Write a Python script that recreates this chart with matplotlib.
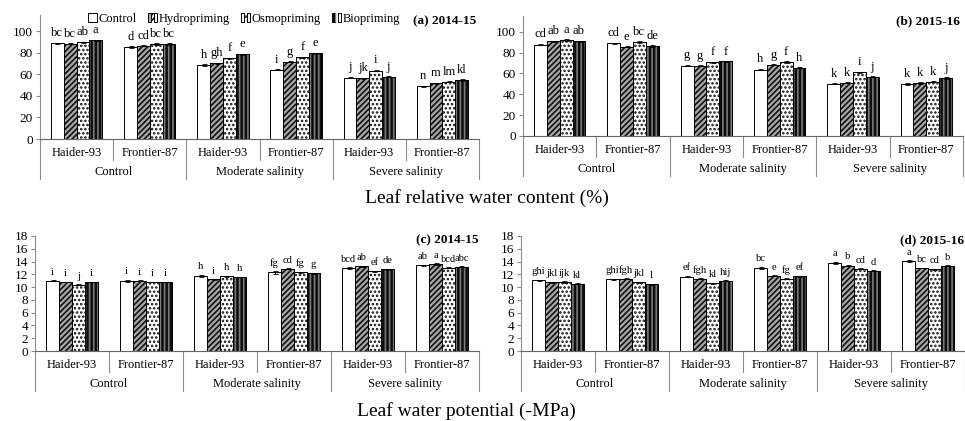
import matplotlib
matplotlib.use("Agg")
import matplotlib.pyplot as plt
import matplotlib.transforms as mtransforms
from matplotlib.patches import Patch
from matplotlib.legend_handler import HandlerTuple
from matplotlib.lines import Line2D
import numpy as np

plt.rcParams['font.family'] = ['Liberation Serif', 'DejaVu Serif']
plt.rcParams['hatch.linewidth'] = 1.2

treatments = ["Control", "Hydropriming", "Osmopriming", "Biopriming"]
cultivars = ["Haider-93", "Frontier-87", "Haider-93", "Frontier-87", "Haider-93", "Frontier-87"]
salinity = ["Control", "Moderate salinity", "Severe salinity"]

# rows = cultivar x salinity category; columns = treatments
rwc_2014 = [[88.6, 88.3, 89.5, 91.4],
            [85.2, 86.5, 88.0, 88.0],
            [68.6, 70.2, 74.8, 78.5],
            [64.3, 71.7, 75.7, 79.4],
            [57.0, 56.3, 63.4, 57.8],
            [49.0, 51.7, 53.2, 54.8]]
rwc_2014_err = [[0.6, 0.5, 0.7, 0.8],
                [0.6, 0.5, 0.6, 0.6],
                [0.6, 0.6, 0.6, 0.6],
                [0.6, 0.6, 0.7, 0.7],
                [0.8, 0.6, 0.7, 0.6],
                [0.6, 0.6, 0.6, 0.6]]
rwc_2014_lab = [["bc", "bc", "ab", "a"], ["d", "cd", "bc", "bc"], ["h", "gh", "f", "e"],
                ["i", "g", "f", "e"], ["j", "jk", "i", "j"], ["n", "m", "lm", "kl"]]

rwc_2015 = [[87.5, 90.7, 92.0, 90.7],
            [88.7, 85.5, 89.7, 86.2],
            [67.5, 67.2, 70.7, 71.4],
            [63.7, 68.2, 70.7, 65.3],
            [50.2, 51.1, 61.1, 56.9],
            [49.8, 50.8, 52.1, 55.6]]
rwc_2015_err = [[0.7, 0.6, 0.8, 0.6],
                [0.8, 0.6, 0.9, 0.7],
                [0.6, 0.5, 0.5, 0.5],
                [0.8, 0.6, 1.0, 0.6],
                [0.6, 0.6, 0.7, 0.6],
                [0.6, 0.6, 0.6, 0.6]]
rwc_2015_lab = [["cd", "ab", "a", "ab"], ["cd", "e", "bc", "de"], ["g", "g", "f", "f"],
                ["h", "g", "f", "h"], ["k", "k", "i", "j"], ["k", "k", "k", "j"]]

lwp_2014 = [[10.98, 10.80, 10.35, 10.80],
            [11.00, 11.03, 10.80, 10.80],
            [11.80, 11.20, 11.70, 11.60],
            [12.30, 12.90, 12.30, 12.20],
            [13.00, 13.30, 12.50, 12.80],
            [13.40, 13.60, 13.05, 13.15]]
lwp_2014_err = [[0.10, 0.06, 0.06, 0.06],
                [0.15, 0.08, 0.06, 0.06],
                [0.15, 0.06, 0.06, 0.06],
                [0.20, 0.08, 0.08, 0.08],
                [0.10, 0.08, 0.08, 0.08],
                [0.08, 0.12, 0.08, 0.08]]
lwp_2014_lab = [["i", "i", "j", "i"], ["i", "i", "i", "i"], ["h", "i", "h", "h"],
                ["fg", "cd", "fg", "g"], ["bcd", "ab", "ef", "de"], ["ab", "a", "bcd", "abc"]]

lwp_2015 = [[11.08, 10.77, 10.80, 10.56],
            [11.20, 11.30, 10.77, 10.46],
            [11.65, 11.30, 10.60, 11.00],
            [13.06, 11.80, 11.34, 11.70],
            [13.84, 13.37, 12.85, 12.60],
            [14.10, 13.00, 12.80, 13.37]]
lwp_2015_err = [[0.08, 0.06, 0.08, 0.06],
                [0.10, 0.06, 0.06, 0.06],
                [0.12, 0.08, 0.06, 0.06],
                [0.15, 0.06, 0.06, 0.06],
                [0.15, 0.10, 0.08, 0.08],
                [0.12, 0.06, 0.06, 0.08]]
lwp_2015_lab = [["ghi", "jkl", "ijk", "kl"], ["ghi", "fgh", "jkl", "l"], ["ef", "fgh", "kl", "hij"],
                ["bc", "e", "fg", "ef"], ["a", "b", "cd", "d"], ["a", "bc", "cd", "b"]]

W, H = 965, 421
fig = plt.figure(figsize=(W / 100, H / 100), dpi=100)


def axes_px(left, top, right, bottom):
    return fig.add_axes([left / W, 1 - bottom / H, (right - left) / W, (bottom - top) / H])


styles = [
    dict(face="white", hatch=None, hcol=None),
    dict(face="#a8a8a8", hatch="//////", hcol="#111111"),
    dict(face="white", hatch="....", hcol="#111111"),
    dict(face="#0d0d0d", hatch="||||", hcol="#7a7a7a"),
]

bw = 0.175
offsets = np.array([-1.5, -0.5, 0.5, 1.5]) * bw
GREY = "#8c8c8c"


def draw_panel(ax, vals, errs, labs, ymax, ystep, lab_fs, title, title_x, title_y, title_ha="right"):
    vals = np.array(vals)
    errs = np.array(errs)
    xs = np.arange(len(cultivars)) + 0.5
    for j in range(4):
        st = styles[j]
        ax.bar(xs + offsets[j], vals[:, j], bw, color=st["face"], edgecolor="black",
               linewidth=0.7, zorder=2)
        if st["hatch"]:
            ax.bar(xs + offsets[j], vals[:, j], bw, facecolor="none", edgecolor=st["hcol"],
                   linewidth=0, hatch=st["hatch"], zorder=2.5)
            ax.bar(xs + offsets[j], vals[:, j], bw, facecolor="none", edgecolor="black",
                   linewidth=0.7, zorder=2.6)
        ax.errorbar(xs + offsets[j], vals[:, j], yerr=errs[:, j], fmt="none", ecolor="black",
                    elinewidth=0.6, capsize=1.8, capthick=0.6, zorder=3)
        for i in range(len(xs)):
            ax.annotate(labs[i][j], (xs[i] + offsets[j], vals[i, j] + errs[i, j]),
                        xytext=(0, 2.5), textcoords="offset points", ha="center",
                        va="bottom", fontsize=lab_fs, zorder=4)
    ax.set_xlim(0, len(cultivars))
    ax.set_ylim(0, ymax)
    ax.set_yticks(np.arange(0, ymax + 0.01, ystep))
    ax.set_xticks([])
    for s in ["top", "right"]:
        ax.spines[s].set_visible(False)
    ax.spines["left"].set_color(GREY)
    ax.spines["bottom"].set_color("#666666")
    ax.spines["left"].set_linewidth(0.8)
    ax.spines["bottom"].set_linewidth(0.8)
    ax.tick_params(axis="y", direction="out", length=3, width=0.8, color=GREY,
                   labelsize=9.5, pad=2)
    tr = ax.get_xaxis_transform()

    def off(px):
        return tr + mtransforms.ScaledTranslation(0, -px / 100, fig.dpi_scale_trans)

    for k in range(len(cultivars) + 1):
        length = 40 if k % 2 == 0 else 21
        ln = Line2D([k, k], [0, -length / ax.bbox.height], transform=tr, color=GREY, lw=0.8,
                    clip_on=False)
        ax.add_line(ln)
    for i, c in enumerate(cultivars):
        ax.text(i + 0.5, 0, c, transform=off(14), ha="center", va="center", fontsize=9)
    for g, s in enumerate(salinity):
        ax.text(2 * g + 1, 0, s, transform=off(33), ha="center", va="center", fontsize=9)
    ax.text(title_x, title_y, title, transform=fig.transFigure, ha=title_ha, va="center",
            fontsize=9.5, fontweight="bold")


ax_a = axes_px(40, 15, 479, 139)
ax_b = axes_px(523, 16, 963, 136)
ax_c = axes_px(35, 236, 479, 351)
ax_d = axes_px(521, 236, 965, 351)
fig.canvas.draw()

draw_panel(ax_a, rwc_2014, rwc_2014_err, rwc_2014_lab, 115, 20, 9, "(a) 2014-15", 476 / W, 1 - 21 / H)
draw_panel(ax_b, rwc_2015, rwc_2015_err, rwc_2015_lab, 115, 20, 9, "(b) 2015-16", 960 / W, 1 - 21 / H)
draw_panel(ax_c, lwp_2014, lwp_2014_err, lwp_2014_lab, 18, 2, 7.6, "(c) 2014-15", 478 / W, 1 - 240 / H)
draw_panel(ax_d, lwp_2015, lwp_2015_err, lwp_2015_lab, 18, 2, 7.6, "(d) 2015-16", 964 / W, 1 - 240 / H)

# legend
handles = []
for st in styles:
    base = Patch(facecolor=st["face"], edgecolor="black", linewidth=0.7)
    if st["hatch"]:
        hp = Patch(facecolor="none", edgecolor=st["hcol"], linewidth=0, hatch=st["hatch"])
        edge = Patch(facecolor="none", edgecolor="black", linewidth=0.7)
        handles.append((base, hp, edge))
    else:
        handles.append(base)
fig.legend(handles, treatments, handler_map={tuple: HandlerTuple(ndivide=None, pad=0)},
           loc="center", bbox_to_anchor=(244 / W, 1 - 19 / H), ncol=4, frameon=False,
           fontsize=9, handlelength=0.7, handleheight=0.7, handletextpad=0.15,
           columnspacing=0.9, borderaxespad=0, borderpad=0)

fig.text(487 / W, 1 - 198 / H, "Leaf relative water content (%)", ha="center", va="center",
         fontsize=14)
fig.text(466 / W, 1 - 411 / H, "Leaf water potential (-MPa)", ha="center", va="center",
         fontsize=14)

fig.savefig("out.png", dpi=100)
